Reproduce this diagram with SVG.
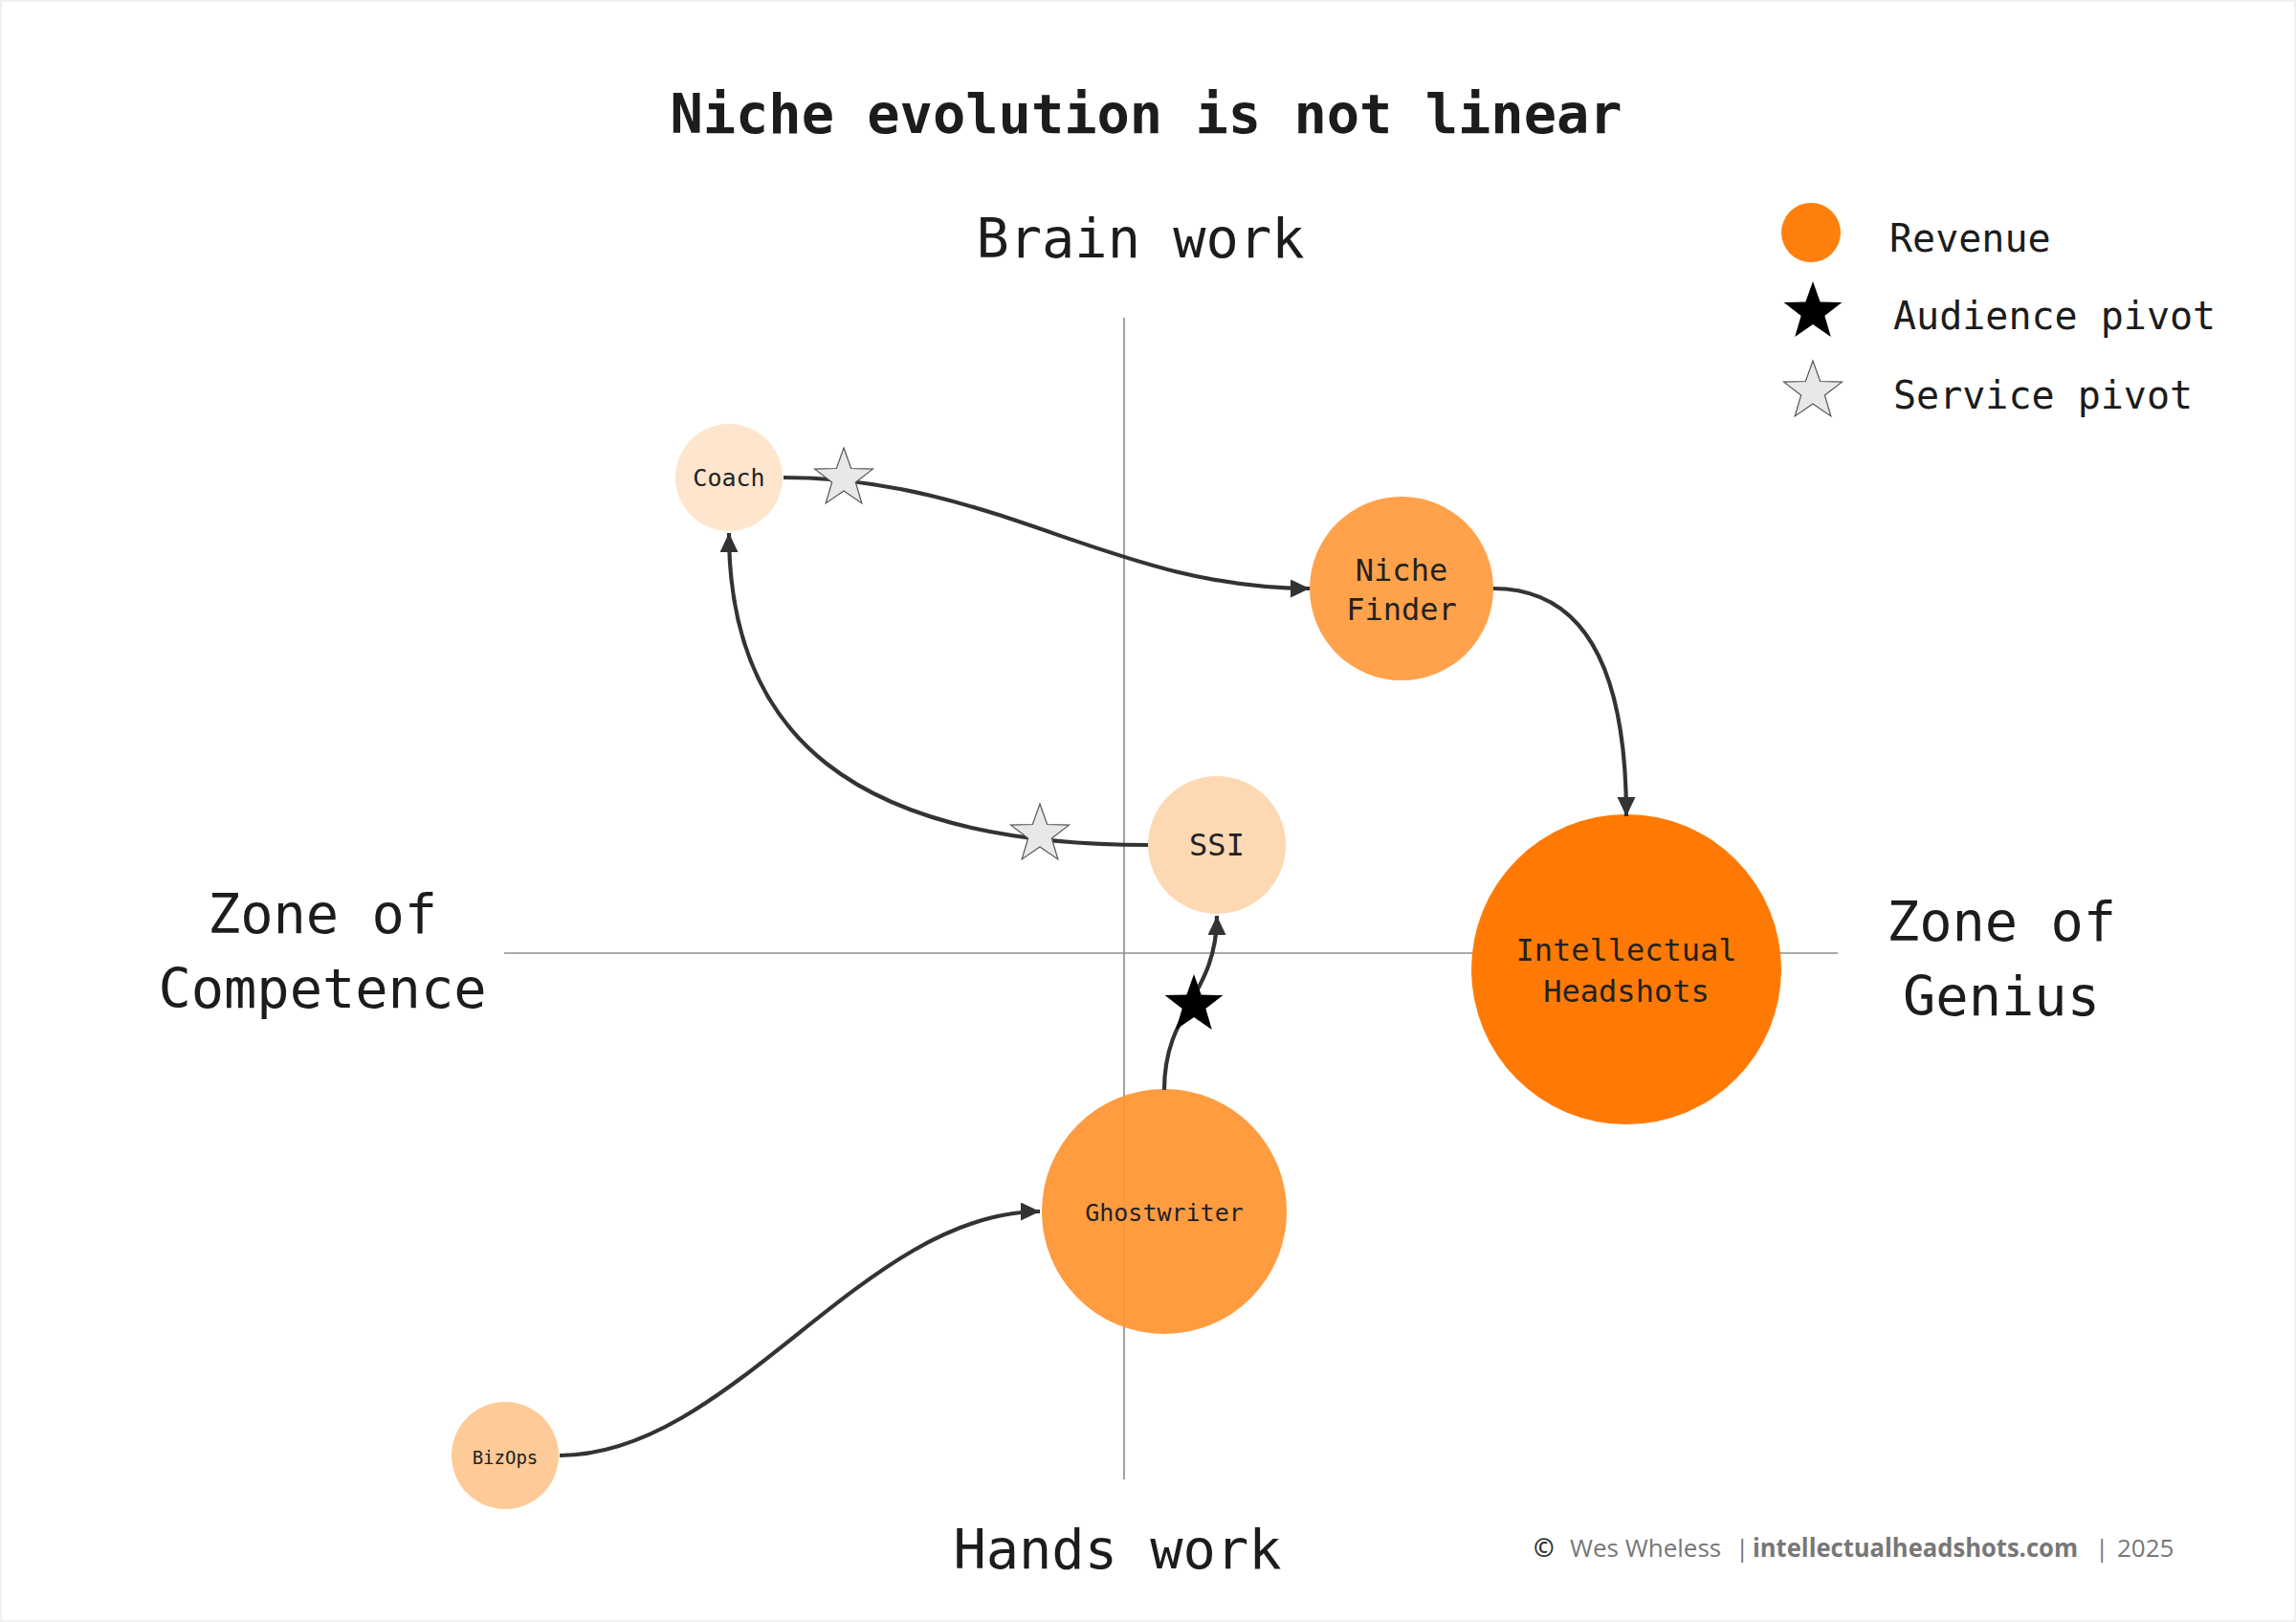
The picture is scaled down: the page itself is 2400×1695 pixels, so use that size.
<svg xmlns="http://www.w3.org/2000/svg" width="2400" height="1695" viewBox="0 0 2400 1695">
  <style>
    .mono { font-family: "DejaVu Sans Mono", "Liberation Mono", monospace; fill: #1c1c1c; }
    .title { font-size: 57px; font-weight: bold; text-anchor: middle; }
    .axis-label { font-size: 57px; text-anchor: middle; }
    .legend-text { font-size: 40px; }
    .node-text { text-anchor: middle; fill: #222222; }
    .axis { stroke: #8c8c8c; stroke-width: 1.6; fill: none; }
    .edge { stroke: #333333; stroke-width: 4.2; fill: none; marker-end: url(#arrow); }
    .footer { font-family: "Open Sans", "Noto Sans", sans-serif; font-size: 26px; fill: #777777; }
  </style>
  <defs>
    <marker id="arrow" markerUnits="userSpaceOnUse" markerWidth="22" markerHeight="20" refX="20" refY="9.5" orient="auto">
      <path d="M0,0 L20,9.5 L0,19 z" fill="#333333"/>
    </marker>
    <polygon id="star" points="0,-32 7.64,-10.52 30.43,-9.89 12.36,4.02 18.81,25.89 0,13 -18.81,25.89 -12.36,4.02 -30.43,-9.89 -7.64,-10.52"/>
  </defs>

  <rect x="0" y="0" width="2400" height="1695" fill="#ffffff" stroke="#f0f0f0" stroke-width="4"/>

  <text class="mono title" x="1198" y="139">Niche evolution is not linear</text>

  <g id="axes">
    <line class="axis" x1="1175" y1="332" x2="1175" y2="1546"/>
    <line class="axis" x1="527" y1="996" x2="1921" y2="996"/>
  </g>

  <g id="axis-labels">
    <text class="mono axis-label" x="1192" y="269">Brain work</text>
    <text class="mono axis-label" x="1168" y="1639">Hands work</text>
    <text class="mono axis-label" x="337" y="975">Zone of</text>
    <text class="mono axis-label" x="337" y="1053">Competence</text>
    <text class="mono axis-label" x="2092" y="983">Zone of</text>
    <text class="mono axis-label" x="2092" y="1061">Genius</text>
  </g>

  <g id="legend">
    <circle cx="1893" cy="243" r="31" fill="#FF7F0E"/>
    <text class="mono legend-text" x="1975" y="263">Revenue</text>
    <use href="#star" x="1895" y="326" fill="#000000"/>
    <text class="mono legend-text" x="1979" y="344">Audience pivot</text>
    <use href="#star" x="1895" y="409" fill="#e8e8e8" stroke="#555555" stroke-width="1.2"/>
    <text class="mono legend-text" x="1979" y="427">Service pivot</text>
  </g>

  <g id="node-coach">
    <circle cx="762" cy="499" r="56" fill="#FDE5CE"/>
    <text class="mono node-text" x="762" y="508" font-size="25">Coach</text>
  </g>
  <g id="node-niche-finder">
    <circle cx="1465" cy="615" r="96" fill="#FFA24B"/>
    <text class="mono node-text" x="1465" y="607" font-size="32">Niche</text>
    <text class="mono node-text" x="1465" y="648" font-size="32">Finder</text>
  </g>
  <g id="node-ssi">
    <circle cx="1272" cy="883" r="72" fill="#FDD9B3"/>
    <text class="mono node-text" x="1272" y="894" font-size="32">SSI</text>
  </g>
  <g id="node-intellectual-headshots">
    <circle cx="1700" cy="1013" r="162" fill="#FF7A05"/>
    <text class="mono node-text" x="1700" y="1004" font-size="32">Intellectual</text>
    <text class="mono node-text" x="1700" y="1047" font-size="32">Headshots</text>
  </g>
  <g id="node-ghostwriter">
    <circle cx="1217" cy="1266" r="128" fill="#FF9430" fill-opacity="0.92"/>
    <text class="mono node-text" x="1217" y="1276" font-size="25">Ghostwriter</text>
  </g>
  <g id="node-bizops">
    <circle cx="528" cy="1521" r="56" fill="#FDCA98"/>
    <text class="mono node-text" x="528" y="1530" font-size="19">BizOps</text>
  </g>

  <g id="connectors">
    <path class="edge" d="M585,1521 C765,1521 903,1266 1087,1266"/>
    <path class="edge" d="M1217,1139 C1217,1055 1272,1040 1272,957"/>
    <path class="edge" d="M1200,883 C888,883 762,765 762,557"/>
    <path class="edge" d="M819,499 C1041,499 1163,615 1369,615"/>
    <path class="edge" d="M1561,615 C1668,615 1700,720 1700,853"/>
  </g>

  <g id="pivots">
    <use href="#star" x="882" y="500" fill="#e8e8e8" stroke="#555555" stroke-width="1.2"/>
    <use href="#star" x="1087" y="872" fill="#e8e8e8" stroke="#555555" stroke-width="1.2"/>
    <use href="#star" x="1248" y="1050" fill="#000000"/>
  </g>

  <g id="footer">
    <text class="footer" y="1627">
      <tspan x="1603" fill="#333333" font-weight="bold">©</tspan>
      <tspan x="1641">Wes Wheless</tspan>
      <tspan x="1814">|</tspan>
      <tspan x="1832" font-weight="bold" textLength="340" lengthAdjust="spacingAndGlyphs">intellectualheadshots.com</tspan>
      <tspan x="2190">|</tspan>
      <tspan x="2213">2025</tspan>
    </text>
  </g>
</svg>
